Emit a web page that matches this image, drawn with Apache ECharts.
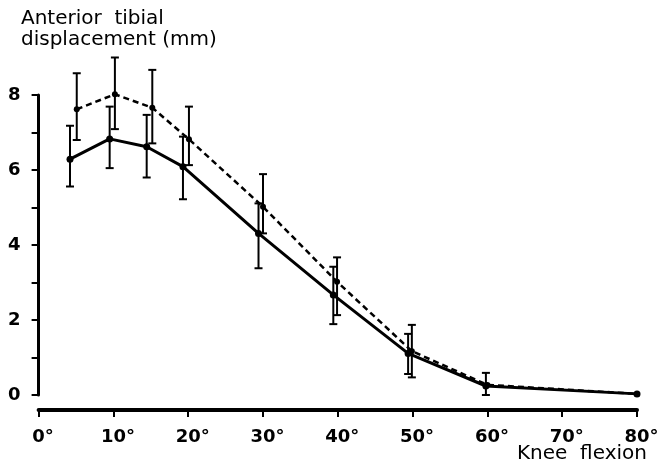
<!DOCTYPE html>
<html>
<head>
<meta charset="utf-8">
<script src="https://cdn.jsdelivr.net/npm/echarts@6/dist/echarts.min.js"></script>
<style>
html, body { margin: 0; padding: 0; background: #fff; }
#chart { width: 672px; height: 472px; }
</style>
</head>
<body>
<div id="chart"></div>
<script>
// 膝屈曲角度 (solid / dashed curves are drawn slightly offset in the original)
var solidDeg = [4.2, 9.5, 14.45, 19.3, 29.4, 39.4, 49.4, 59.8, 80];
var solidVal = [6.29, 6.83, 6.62, 6.09, 4.31, 2.67, 1.11, 0.24, 0.03];
var solidHi = [7.18, 7.69, 7.47, 6.89, 5.11, 3.42, 1.63, 0.59, null];
var solidLo = [5.56, 6.05, 5.80, 5.22, 3.38, 1.89, 0.56, 0.00, null];

var dashDeg = [5.1, 10.2, 15.2, 20.1, 30.0, 39.9, 49.9, 60, 80];
var dashVal = [7.62, 8.02, 7.66, 6.82, 5.02, 3.02, 1.17, 0.27, 0.03];
var dashHi = [8.58, 9.00, 8.67, 7.69, 5.89, 3.67, 1.87, null, null];
var dashLo = [6.80, 7.09, 6.71, 6.13, 4.31, 2.13, 0.47, null, null];

function pairs(xs, ys) {
	return xs.map(function (x, i) { return [x, ys[i]]; });
}
function errData(xs, hi, lo) {
	var out = [];
	xs.forEach(function (x, i) {
		if (hi[i] != null) out.push([x, lo[i], hi[i]]);
	});
	return out;
}

// 误差线
function renderErr(params, api) {
	var x = api.value(0);
	var lo = api.coord([x, api.value(1)]);
	var hi = api.coord([x, api.value(2)]);
	var w = 4;
	var st = { stroke: '#000', lineWidth: 2 };
	return {
		type: 'group',
		children: [
			{ type: 'line', shape: { x1: lo[0], y1: lo[1], x2: hi[0], y2: hi[1] }, style: st },
			{ type: 'line', shape: { x1: hi[0] - w, y1: hi[1], x2: hi[0] + w, y2: hi[1] }, style: st },
			{ type: 'line', shape: { x1: lo[0] - w, y1: lo[1], x2: lo[0] + w, y2: lo[1] }, style: st }
		]
	};
}

var fontFam = 'DejaVu Sans';
var chart = echarts.init(document.getElementById('chart'));
var option = {
	animation: false,
	backgroundColor: '#fff',
	title: {
		text: 'Anterior  tibial\ndisplacement (mm)',
		left: 16,
		top: 3,
		textStyle: { fontFamily: fontFam, fontSize: 20, fontWeight: 'normal', color: '#000', lineHeight: 21 }
	},
	graphic: [{
		type: 'text',
		left: 517,
		top: 444,
		style: { text: 'Knee  flexion', font: '20px "DejaVu Sans"', fill: '#000' }
	}],
	grid: { left: 38.6, right: 35, top: 95, bottom: 77 },
	xAxis: {
		type: 'value',
		min: 0, max: 80, interval: 10,
		offset: 15,
		splitLine: { show: false },
		axisLine: { show: true, onZero: false, lineStyle: { color: '#000', width: 4 } },
		axisTick: { show: true, length: 7, lineStyle: { color: '#000', width: 2 } },
		axisLabel: {
			formatter: '{value}°', color: '#000', fontFamily: fontFam, fontSize: 18, fontWeight: 'bold',
			margin: 18, padding: [0, 0, 0, 9]
		}
	},
	yAxis: {
		type: 'value',
		min: 0, max: 8, interval: 2,
		splitLine: { show: false },
		axisLine: { show: true, lineStyle: { color: '#000', width: 3 } },
		axisTick: { show: true, length: 7, lineStyle: { color: '#000', width: 2 } },
		minorTick: { show: true, splitNumber: 2, length: 7, lineStyle: { color: '#000', width: 2 } },
		axisLabel: { color: '#000', fontFamily: fontFam, fontSize: 18, fontWeight: 'bold', margin: 18 }
	},
	series: [
		{
			type: 'line',
			data: pairs(dashDeg, dashVal),
			symbol: 'circle', symbolSize: 6,
			itemStyle: { color: '#000' },
			lineStyle: { color: '#000', width: 2.5, type: [6, 4] },
			clip: false, z: 3
		},
		{
			type: 'line',
			data: pairs(solidDeg, solidVal),
			symbol: 'circle', symbolSize: 7,
			itemStyle: { color: '#000' },
			lineStyle: { color: '#000', width: 3 },
			clip: false, z: 3
		},
		{
			type: 'custom',
			renderItem: renderErr,
			data: errData(dashDeg, dashHi, dashLo),
			clip: false, z: 4
		},
		{
			type: 'custom',
			renderItem: renderErr,
			data: errData(solidDeg, solidHi, solidLo),
			clip: false, z: 4
		}
	]
};
chart.setOption(option);
</script>
</body>
</html>
